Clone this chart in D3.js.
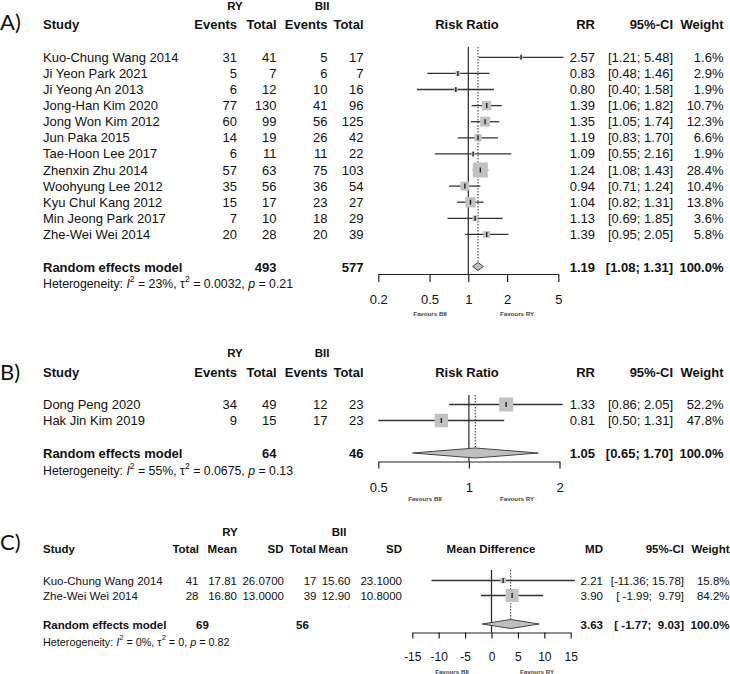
<!DOCTYPE html>
<html><head><meta charset="utf-8">
<script src="https://cdn.jsdelivr.net/npm/d3@7"></script>
<style>
body{margin:0;background:#fff}
svg{display:block}
text{font-family:"Liberation Sans",Arial,sans-serif;fill:#111;white-space:pre}
</style>
</head><body>
<svg id="c" width="730" height="674"></svg>
<script>
// ---------- Panel A data ----------
const studiesA = ["Kuo-Chung Wang 2014","Ji Yeon Park 2021","Ji Yeong An 2013","Jong-Han Kim 2020","Jong Won Kim 2012","Jun Paka 2015","Tae-Hoon Lee 2017","Zhenxin Zhu 2014","Woohyung Lee 2012","Kyu Chul Kang 2012","Min Jeong Park 2017","Zhe-Wei Wei 2014"];
const ryEventsA = [31,5,6,77,60,14,6,57,35,15,7,20];
const ryTotalA  = [41,7,12,130,99,19,11,63,56,17,10,28];
const biiEventsA = [5,6,10,41,56,26,11,75,36,23,18,20];
const biiTotalA  = [17,7,16,96,125,42,22,103,54,27,29,39];
const rrA    = [2.57,0.83,0.80,1.39,1.35,1.19,1.09,1.24,0.94,1.04,1.13,1.39];
const lowerA = [1.21,0.48,0.40,1.06,1.05,0.83,0.55,1.08,0.71,0.82,0.69,0.95];
const upperA = [5.48,1.46,1.58,1.82,1.74,1.70,2.16,1.43,1.24,1.31,1.85,2.05];
const weightA = [1.6,2.9,1.9,10.7,12.3,6.6,1.9,28.4,10.4,13.8,3.6,5.8];
const summaryA = [1.19,1.08,1.31];
const totalsA = [493,577];
const hetA = ["23%","0.0032","0.21"];
const ticksA = [0.2,0.5,1,2,5];

// ---------- Panel B data ----------
const studiesB = ["Dong Peng 2020","Hak Jin Kim 2019"];
const ryEventsB = [34,9];
const ryTotalB  = [49,15];
const biiEventsB = [12,17];
const biiTotalB  = [23,23];
const rrB    = [1.33,0.81];
const lowerB = [0.86,0.50];
const upperB = [2.05,1.31];
const weightB = [52.2,47.8];
const summaryB = [1.05,0.65,1.70];
const totalsB = [64,46];
const hetB = ["55%","0.0675","0.13"];
const ticksB = [0.5,1,2];

// ---------- Panel C data ----------
const studiesC = ["Kuo-Chung Wang 2014","Zhe-Wei Wei 2014"];
const ryTotalC = [41,28];
const ryMeanC  = [17.81,16.80];
const rySdC    = [26.07,13.00];
const biiTotalC = [17,39];
const biiMeanC  = [15.60,12.90];
const biiSdC    = [23.10,10.80];
const mdC    = [2.21,3.90];
const lowerC = [-11.36,-1.99];
const upperC = [15.78,9.79];
const weightC = [15.8,84.2];
const summaryC = [3.63,-1.77,9.03];
const totalsC = [69,56];
const hetC = ["0%","0","0.82"];
const ticksC = [-15,-10,-5,0,5,10,15];

const svg = d3.select("#c");
const INK = "#222";

function T(x, y, s, anchor, size, bold) {
  return svg.append("text")
    .attr("x", x).attr("y", y)
    .attr("dominant-baseline", "central")
    .attr("text-anchor", anchor || "start")
    .attr("xml:space", "preserve")
    .style("font-size", (size || 13) + "px")
    .style("font-weight", bold ? "bold" : null)
    .text(s);
}
function letter(s, y) {
  svg.append("text").attr("x", 0).attr("y", y).attr("dominant-baseline","central")
    .style("font-family","Lato, 'Open Sans', sans-serif").style("font-size","22px").text(s);
}
function het(x, y, size, v) {
  const t = svg.append("text").attr("x", x).attr("y", y).attr("dominant-baseline","central")
    .style("font-size", size + "px");
  const sup = size * 0.42;
  t.append("tspan").text("Heterogeneity: ");
  t.append("tspan").style("font-style","italic").text("I");
  t.append("tspan").attr("dy", -sup).style("font-size", (size*0.7)+"px").text("2");
  t.append("tspan").attr("dy", sup).text(" = " + v[0] + ", \u03c4");
  t.append("tspan").attr("dy", -sup).style("font-size", (size*0.7)+"px").text("2");
  t.append("tspan").attr("dy", sup).text(" = " + v[1] + ", ");
  t.append("tspan").style("font-style","italic").text("p");
  t.append("tspan").text(" = " + v[2]);
}
const f2 = v => v.toFixed(2), f1 = v => v.toFixed(1), f4 = v => v.toFixed(4);

// draw the graphical part of a panel
function plot(o) {
  const x = o.x;
  const g = svg.append("g");
  const wmax = d3.max(o.w);
  g.append("line").attr("x1", x(o.nullV)).attr("x2", x(o.nullV))
    .attr("y1", o.lineTop).attr("y2", o.axisY).attr("stroke", INK).attr("stroke-width", 1.2);
  g.append("line").attr("x1", x(o.sum[0])).attr("x2", x(o.sum[0]))
    .attr("y1", o.lineTop).attr("y2", o.sumY - o.dh/2).attr("stroke", "#333")
    .attr("stroke-width", 1).attr("stroke-dasharray", "1.5,1.5");
  o.est.forEach((e, i) => {
    const y = o.rowY[i];
    g.append("line").attr("x1", x(o.lo[i])).attr("x2", x(o.hi[i]))
      .attr("y1", y).attr("y2", y).attr("stroke", "#333").attr("stroke-width", 1.3);
    const s = o.maxSq * Math.sqrt(o.w[i] / wmax);
    g.append("rect").attr("x", x(e) - s/2).attr("y", y - s/2).attr("width", s).attr("height", s)
      .attr("fill", "#c2c2c2");
    g.append("line").attr("x1", x(e)).attr("x2", x(e)).attr("y1", y - 2.5).attr("y2", y + 2.5)
      .attr("stroke", "#222").attr("stroke-width", 1.4);
  });
  const sy = o.sumY, h = o.dh/2;
  g.append("path").attr("d",
    `M${x(o.sum[1])},${sy}L${x(o.sum[0])},${sy-h}L${x(o.sum[2])},${sy}L${x(o.sum[0])},${sy+h}Z`)
    .attr("fill", "#c0c0c0").attr("stroke", "#444").attr("stroke-width", 1);
  const ax = g.append("g").attr("transform", `translate(0,${o.axisY})`)
    .call(d3.axisBottom(x).tickValues(o.ticks).tickFormat(d => String(d)).tickSize(o.tickLen).tickSizeOuter(0));
  ax.select(".domain").attr("stroke", INK).attr("stroke-width", 1.2);
  ax.selectAll(".tick line").attr("stroke", INK).attr("stroke-width", 1.2);
  ax.selectAll(".tick text").attr("y", o.labelY - o.axisY).attr("dy", "0.35em")
    .style("font-size", o.tickFont + "px").style("font-family", "'Liberation Sans',Arial,sans-serif").attr("fill", "#222");
  T(o.favL, o.favY, "Favours BII", "middle", 6.2, true).style("fill", "#444");
  T(o.favR, o.favY, "Favours RY", "middle", 6.2, true).style("fill", "#444");
}

// ---------- Panel A ----------
letter("A)", 21);
T(235, 6, "RY", "middle", 11.5, true);
T(322, 6, "BII", "middle", 11.5, true);
T(43, 24, "Study", "start", 13, true);
T(237, 24, "Events", "end", 13, true);
T(276.5, 24, "Total", "end", 13, true);
T(327.5, 24, "Events", "end", 13, true);
T(363.5, 24, "Total", "end", 13, true);
T(467, 24, "Risk Ratio", "middle", 13, true);
T(595, 24, "RR", "end", 13, true);
T(673, 24, "95%-CI", "end", 13, true);
T(723.5, 24, "Weight", "end", 13, true);
const rowYA = studiesA.map((d, i) => 57.3 + i * 16.1);
studiesA.forEach((s, i) => {
  const y = rowYA[i];
  T(43, y, s);
  T(237, y, String(ryEventsA[i]), "end");
  T(276.5, y, String(ryTotalA[i]), "end");
  T(327.5, y, String(biiEventsA[i]), "end");
  T(363.5, y, String(biiTotalA[i]), "end");
  T(595, y, f2(rrA[i]), "end");
  T(673, y, "[" + f2(lowerA[i]) + "; " + f2(upperA[i]) + "]", "end");
  T(723.5, y, f1(weightA[i]) + "%", "end");
});
T(43, 267, "Random effects model", "start", 13, true);
T(276.5, 267, String(totalsA[0]), "end", 13, true);
T(363.5, 267, String(totalsA[1]), "end", 13, true);
T(595, 267, f2(summaryA[0]), "end", 13, true);
T(673, 267, "[" + f2(summaryA[1]) + "; " + f2(summaryA[2]) + "]", "end", 13, true);
T(723.5, 267, "100.0%", "end", 13, true);
het(43, 284, 12.3, hetA);
plot({
  x: d3.scaleLog().domain([0.2, 5]).range([378.3, 558.3]),
  nullV: 1, est: rrA, lo: lowerA, hi: upperA, w: weightA, rowY: rowYA,
  sum: summaryA, sumY: 266.5, dh: 8, maxSq: 15, lineTop: 47, axisY: 274, tickLen: 8,
  ticks: ticksA, labelY: 299, tickFont: 13, favY: 313, favL: 430, favR: 517
});

// ---------- Panel B ----------
letter("B)", 371.5);
T(235, 353, "RY", "middle", 11.5, true);
T(322, 353, "BII", "middle", 11.5, true);
T(43, 372, "Study", "start", 13, true);
T(237, 372, "Events", "end", 13, true);
T(276.5, 372, "Total", "end", 13, true);
T(327.5, 372, "Events", "end", 13, true);
T(363.5, 372, "Total", "end", 13, true);
T(467, 372, "Risk Ratio", "middle", 13, true);
T(595, 372, "RR", "end", 13, true);
T(673, 372, "95%-CI", "end", 13, true);
T(723.5, 372, "Weight", "end", 13, true);
const rowYB = studiesB.map((d, i) => 404.5 + i * 16);
studiesB.forEach((s, i) => {
  const y = rowYB[i];
  T(43, y, s);
  T(237, y, String(ryEventsB[i]), "end");
  T(276.5, y, String(ryTotalB[i]), "end");
  T(327.5, y, String(biiEventsB[i]), "end");
  T(363.5, y, String(biiTotalB[i]), "end");
  T(595, y, f2(rrB[i]), "end");
  T(673, y, "[" + f2(lowerB[i]) + "; " + f2(upperB[i]) + "]", "end");
  T(723.5, y, f1(weightB[i]) + "%", "end");
});
T(43, 453.5, "Random effects model", "start", 13, true);
T(276.5, 453.5, String(totalsB[0]), "end", 13, true);
T(363.5, 453.5, String(totalsB[1]), "end", 13, true);
T(595, 453.5, f2(summaryB[0]), "end", 13, true);
T(673, 453.5, "[" + f2(summaryB[1]) + "; " + f2(summaryB[2]) + "]", "end", 13, true);
T(723.5, 453.5, "100.0%", "end", 13, true);
het(43, 471, 12.3, hetB);
plot({
  x: d3.scaleLog().domain([0.5, 2]).range([378.3, 559.5]),
  nullV: 1, est: rrB, lo: lowerB, hi: upperB, w: weightB, rowY: rowYB,
  sum: summaryB, sumY: 453, dh: 10, maxSq: 14, lineTop: 395, axisY: 461.5, tickLen: 7,
  ticks: ticksB, labelY: 487, tickFont: 13, favY: 498, favL: 425, favR: 517
});

// ---------- Panel C ----------
letter("C)", 541);
const FC = 11.5;
T(230, 532, "RY", "middle", FC, true);
T(339, 532, "BII", "middle", FC, true);
T(43, 549, "Study", "start", FC, true);
T(199, 549, "Total", "end", FC, true);
T(237, 549, "Mean", "end", FC, true);
T(283.5, 549, "SD", "end", FC, true);
T(316, 549, "Total", "end", FC, true);
T(348, 549, "Mean", "end", FC, true);
T(402, 549, "SD", "end", FC, true);
T(491, 549, "Mean Difference", "middle", FC, true);
T(603, 549, "MD", "end", FC, true);
T(684, 549, "95%-CI", "end", FC, true);
T(729.5, 549, "Weight", "end", FC, true);
const rowYC = studiesC.map((d, i) => 580.5 + i * 15);
studiesC.forEach((s, i) => {
  const y = rowYC[i];
  T(43, y, s, "start", FC);
  T(198.5, y, String(ryTotalC[i]), "end", FC);
  T(237, y, f2(ryMeanC[i]), "end", FC);
  T(284, y, f4(rySdC[i]), "end", FC);
  T(316.5, y, String(biiTotalC[i]), "end", FC);
  T(350.5, y, f2(biiMeanC[i]), "end", FC);
  T(402, y, f4(biiSdC[i]), "end", FC);
  T(603, y, f2(mdC[i]), "end", FC);
  T(684, y, "[" + f2(lowerC[i]).padStart(6) + "; " + f2(upperC[i]).padStart(5) + "]", "end", FC);
  T(729.5, y, f1(weightC[i]) + "%", "end", FC);
});
T(43, 624.5, "Random effects model", "start", FC, true);
T(196, 624.5, String(totalsC[0]), "start", FC, true);
T(296, 624.5, String(totalsC[1]), "start", FC, true);
T(603, 624.5, f2(summaryC[0]), "end", FC, true);
T(684, 624.5, "[" + f2(summaryC[1]).padStart(6) + "; " + f2(summaryC[2]).padStart(5) + "]", "end", FC, true);
T(729.5, 624.5, "100.0%", "end", FC, true);
het(43, 642, 10.8, hetC);
plot({
  x: d3.scaleLinear().domain([-15, 15]).range([412.3, 570.7]),
  nullV: 0, est: mdC, lo: lowerC, hi: upperC, w: weightC, rowY: rowYC,
  sum: summaryC, sumY: 624, dh: 9, maxSq: 13, lineTop: 570, axisY: 632.5, tickLen: 6,
  ticks: ticksC, labelY: 657, tickFont: 12, favY: 671, favL: 452, favR: 537
});
</script>
</body></html>
